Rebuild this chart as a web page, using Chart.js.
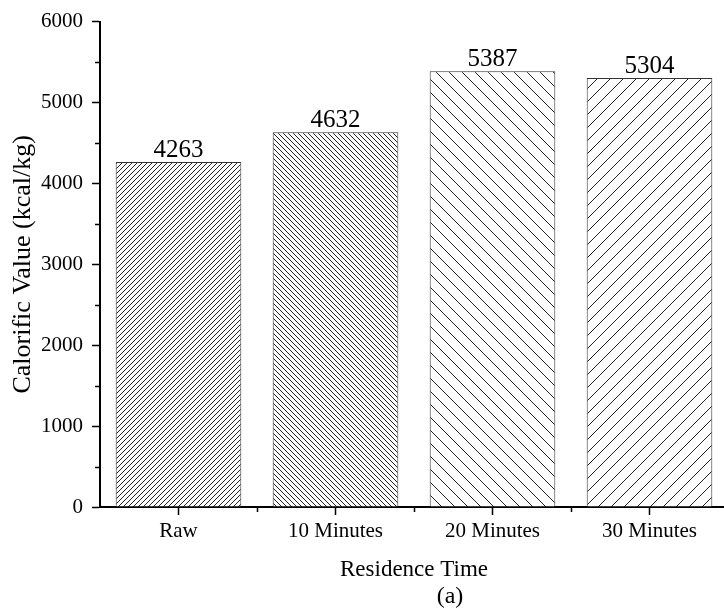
<!DOCTYPE html>
<html>
<head>
<meta charset="utf-8">
<script src="https://cdn.jsdelivr.net/npm/chart.js@4"></script>
<style>
    html, body { margin: 0; padding: 0; background: #fff; overflow: hidden; }
    #wrap { position: absolute; left: 0; top: 0; width: 730px; height: 609px; }
</style>
</head>
<body>
<div id="wrap"><canvas id="chart" width="730" height="609"></canvas></div>
<script>
const categories = ['Raw', '10 Minutes', '20 Minutes', '30 Minutes'];
const calorificValues = [4263, 4632, 5387, 5304];
const yTicks = [0, 1000, 2000, 3000, 4000, 5000, 6000];
const yMinorTicks = [500, 1500, 2500, 3500, 4500, 5500];

const serif = '"Liberation Serif", "Times New Roman", serif';

function hatch(dir, period) {
    let c = document.createElement('canvas');
    c.width = period;
    c.height = period;
    let g = c.getContext('2d');
    g.fillStyle = '#fff';
    g.fillRect(0, 0, period, period);
    g.strokeStyle = '#222';
    g.lineWidth = 1;
    g.beginPath();
    for (let k = -1; k <= 1; k++) {
        if (dir === '/') {
            g.moveTo(k * period, period);
            g.lineTo(k * period + period, 0);
        } else {
            g.moveTo(k * period, 0);
            g.lineTo(k * period + period, period);
        }
    }
    g.stroke();
    return g.createPattern(c, 'repeat');
}

const ctx = document.getElementById('chart').getContext('2d');
const fills = [hatch('/', 5), hatch('\\', 5), hatch('\\', 13), hatch('/', 13)];

const extras = {
    id: 'extras',
    afterDraw(chart) {
        let c = chart.ctx;
        let x = chart.scales.x;
        let y = chart.scales.y;
        let area = chart.chartArea;
        c.save();
        c.strokeStyle = '#000';
        c.lineWidth = 1.5;
        c.beginPath();
        yMinorTicks.forEach(v => {
            let py = Math.round(y.getPixelForValue(v)) + 0.5;
            c.moveTo(area.left - 5, py);
            c.lineTo(area.left, py);
        });
        let step = x.getPixelForValue(1) - x.getPixelForValue(0);
        for (let i = 1; i < categories.length; i++) {
            let px = Math.round(x.getPixelForValue(i) - step / 2) + 0.5;
            c.moveTo(px, area.bottom);
            c.lineTo(px, area.bottom + 5);
        }
        c.stroke();

        c.fillStyle = '#000';
        c.font = '25px ' + serif;
        c.textAlign = 'center';
        c.textBaseline = 'alphabetic';
        chart.getDatasetMeta(0).data.forEach((bar, i) => {
            c.fillText(String(calorificValues[i]), bar.x, bar.y - 5);
        });

        c.font = '24px ' + serif;
        c.fillText('(a)', (area.left + area.right) / 2 + 36, 603);
        c.restore();
    }
};

new Chart(ctx, {
    type: 'bar',
    data: {
        labels: categories,
        datasets: [{
            data: calorificValues,
            backgroundColor: fills,
            borderColor: '#333',
            borderWidth: 1,
            borderSkipped: 'bottom',
            barPercentage: 0.8,
            categoryPercentage: 1.0,
        }]
    },
    options: {
        responsive: false,
        animation: false,
        events: [],
        layout: { padding: { top: 21, right: 2, bottom: 0, left: 0 } },
        plugins: {
            legend: { display: false },
            tooltip: { enabled: false },
        },
        scales: {
            x: {
                grid: {
                    offset: false,
                    drawOnChartArea: false,
                    drawTicks: true,
                    tickLength: 8,
                    tickColor: '#000',
                    tickWidth: 1.5,
                },
                border: { color: '#000', width: 2 },
                ticks: {
                    color: '#000',
                    font: { family: serif, size: 21 },
                    padding: 4,
                    maxRotation: 0,
                },
                title: {
                    display: true,
                    text: 'Residence Time',
                    color: '#000',
                    font: { family: serif, size: 23 },
                    padding: { top: 0, bottom: 25 },
                },
                afterFit(scale) { scale.height = 102; },
            },
            y: {
                min: 0,
                max: 6000,
                afterBuildTicks(scale) { scale.ticks = yTicks.map(v => ({ value: v })); },
                grid: {
                    drawOnChartArea: false,
                    drawTicks: true,
                    tickLength: 8,
                    tickColor: '#000',
                    tickWidth: 1.5,
                },
                border: { color: '#000', width: 2 },
                ticks: {
                    color: '#000',
                    font: { family: serif, size: 21 },
                    padding: 9,
                    callback: v => String(v),
                },
                title: {
                    display: true,
                    text: 'Calorific Value (kcal/kg)',
                    color: '#000',
                    font: { family: serif, size: 26 },
                    padding: { top: 8, bottom: 0 },
                },
                afterFit(scale) { scale.width = 100; },
            }
        }
    },
    plugins: [extras]
});
</script>
</body>
</html>
